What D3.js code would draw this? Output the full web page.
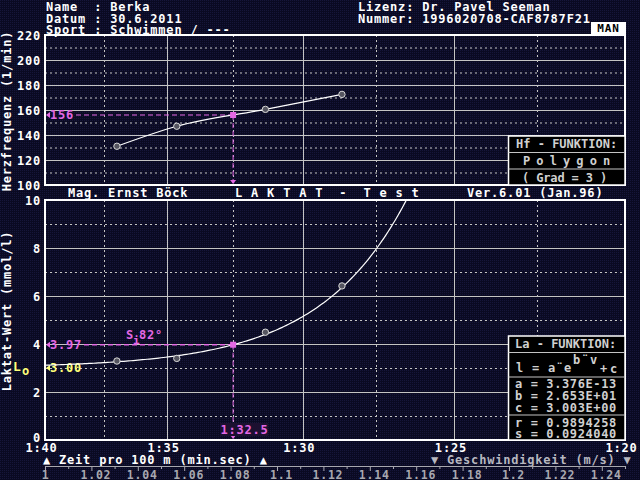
<!DOCTYPE html>
<html><head><meta charset="utf-8">
<script src="https://cdn.jsdelivr.net/npm/d3@7"></script>
<style>body{margin:0;background:#0c0c26;} svg{display:block}</style>
</head><body><svg id="c" width="640" height="480"></svg>
<script>
// ---------- data ----------
const headerLeft = ["Name  : Berka", "Datum : 30.6.2011", "Sport : Schwimmen / ---"];
const headerRight = ["Lizenz: Dr. Pavel Seeman", "Nummer: 1996020708-CAF8787F21"];
const speeds = [1.031, 1.0568, 1.095, 1.128];          // m/s
const heartRate = [131, 147, 160.5, 172.5];            // 1/min
const lactate = [3.29, 3.40, 4.49, 6.42];              // mmol/l
const hfTicks = [100, 120, 140, 160, 180, 200, 220];
const laTicks = [0, 2, 4, 6, 8, 10];
const timeSeconds = [100, 95, 90, 85, 80];
const timeLabels = ["1:40", "1:35", "1:30", "1:25", "1:20"];
const halfTimeSeconds = [97.5, 92.5, 87.5, 82.5];
const speedTicks = [1, 1.02, 1.04, 1.06, 1.08, 1.1, 1.12, 1.14, 1.16, 1.18, 1.2, 1.22, 1.24];
const speedMinorTicks = [1.01, 1.03, 1.05, 1.07, 1.09, 1.11, 1.13, 1.15, 1.17, 1.19, 1.21, 1.23, 1.25];
const fitParams = [3.376e-13, 26.53, 3.003];           // a, b, c
const thresholdSeconds = [92.5];
const thresholdLabel = ["1:32.5"];
const thresholdHf = [156];
const thresholdLa = [3.97];
const baseLactate = [3.00];
const hfBoxLines = ["Hf - FUNKTION:", "P o l y g o n", "( Grad = 3 )"];
const laParamLines = ["a = 3.376E-13", "b = 2.653E+01", "c = 3.003E+00"];
const laStatLines = ["r = 0.9894258", "s = 0.0924040"];

// ---------- setup ----------
const FONT = "'DejaVu Sans Mono', monospace";
const FS = 12, LS = 0.8;
const WHITE = "#ffffff", GRID = "#c4c4c4", MAG = "#e468e4", YEL = "#ffff78", BOXTXT = "#d0d0d0", AXG = "#a8a8b0";
const svg = d3.select("#c");
const defs = svg.append("defs");
const pat = defs.append("pattern").attr("id", "bg").attr("width", 2).attr("height", 2).attr("patternUnits", "userSpaceOnUse");
pat.append("rect").attr("width", 2).attr("height", 2).attr("fill", "#0a0a22");
pat.append("rect").attr("width", 1).attr("height", 1).attr("fill", "#16163a");
svg.append("rect").attr("width", 640).attr("height", 480).attr("fill", "url(#bg)");

const x = d3.scaleLinear().domain([1, 1.25]).range([45, 625]);
const yHf = d3.scaleLinear().domain([100, 220]).range([185, 35]);
const yLa = d3.scaleLinear().domain([0, 10]).range([440, 200]);
const X0 = x(1), X1 = x(1.25);

function styleText(sel, fill, size) {
  return sel.attr("font-family", FONT).attr("font-weight", "bold").attr("font-size", size || FS)
    .attr("letter-spacing", LS).attr("fill", fill || WHITE).attr("dominant-baseline", "central");
}
function txt(g, s, px, py, opts = {}) {
  const t = g.append("text").attr("x", px).attr("y", py).text(s.replace(/ /g, "\u00a0"))
    .attr("text-anchor", opts.anchor || "start");
  return styleText(t, opts.fill, opts.size);
}

// ---------- header ----------
headerLeft.forEach((s, i) => txt(svg, s, 46, 7 + i * 11.5));
headerRight.forEach((s, i) => txt(svg, s, 358, 7 + i * 11.5));
svg.append("rect").attr("x", 591).attr("y", 22).attr("width", 35).attr("height", 12).attr("fill", WHITE);
txt(svg, "MAN", 608.5, 28, { fill: "#000", anchor: "middle", size: 11 });

// ---------- grids ----------
function grid(yScale, solidVals, dashedVals, y0, y1) {
  const g = svg.append("g");
  g.selectAll(".hs").data(solidVals).join("line")
    .attr("x1", X0).attr("x2", X1).attr("y1", d => yScale(d) + 0.5).attr("y2", d => yScale(d) + 0.5)
    .attr("stroke", GRID).attr("stroke-width", 1);
  g.selectAll(".hd").data(dashedVals).join("line")
    .attr("x1", X0).attr("x2", X1).attr("y1", d => yScale(d) + 0.5).attr("y2", d => yScale(d) + 0.5)
    .attr("stroke", GRID).attr("stroke-width", 1).attr("stroke-dasharray", "2,3");
  g.selectAll(".vs").data(timeSeconds.slice(1, -1)).join("line")
    .attr("x1", d => Math.round(x(100 / d)) + 0.5).attr("x2", d => Math.round(x(100 / d)) + 0.5)
    .attr("y1", y0).attr("y2", y1).attr("stroke", GRID).attr("stroke-width", 1);
  g.selectAll(".vd").data(halfTimeSeconds).join("line")
    .attr("x1", d => Math.round(x(100 / d)) + 0.5).attr("x2", d => Math.round(x(100 / d)) + 0.5)
    .attr("y1", y0).attr("y2", y1).attr("stroke", GRID).attr("stroke-width", 1).attr("stroke-dasharray", "2,3");
  svg.append("rect").attr("x", X0).attr("y", y0).attr("width", X1 - X0).attr("height", y1 - y0)
    .attr("fill", "none").attr("stroke", WHITE).attr("stroke-width", 2);
}
grid(yHf, [120, 140, 160, 180, 200], [110, 130, 150, 170, 190, 210], yHf(220), yHf(100));
grid(yLa, [2, 4, 6, 8], [1, 3, 5, 7, 9], yLa(10), yLa(0));

// ---------- y axes ----------
function yAxis(scale, ticks, dyFn) {
  const g = svg.append("g").attr("transform", `translate(${X0},0)`)
    .call(d3.axisLeft(scale).tickValues(ticks).tickSize(0).tickPadding(4));
  g.select(".domain").remove();
  styleText(g.selectAll("text").attr("dy", dyFn || null));
}
yAxis(yHf, hfTicks);
yAxis(yLa, laTicks, d => d === 0 ? -3 : null);
txt(svg, "Herzfrequenz (1/min)", 0, 0, { anchor: "middle" }).attr("transform", "translate(7,111) rotate(-90)");
txt(svg, "Laktat-Wert (mmol/l)", 0, 0, { anchor: "middle" }).attr("transform", "translate(7,311) rotate(-90)");

// ---------- middle titles ----------
txt(svg, "Mag. Ernst Böck", 68, 193);
txt(svg, "L A K T A T  -  T e s t", 235, 193);
txt(svg, "Ver.6.01 (Jan.96)", 467, 193);

// ---------- HF function box ----------
const hb = svg.append("g");
hb.append("rect").attr("x", 508.5).attr("y", 136).attr("width", 116.5).attr("height", 49).attr("fill", "#000").attr("stroke", WHITE).attr("stroke-width", 1.5);
[152.5, 169].forEach(yy => hb.append("line").attr("x1", 508.5).attr("x2", 625).attr("y1", yy).attr("y2", yy).attr("stroke", GRID));
const hbPos = [[516, 102], [523, 88], [522, 86]];
hfBoxLines.forEach((s, i) => txt(hb, s, hbPos[i][0], 144 + i * 17, { fill: BOXTXT })
  .attr("textLength", hbPos[i][1]).attr("lengthAdjust", "spacing"));

// ---------- threshold markers (top) ----------
const tx = x(100 / thresholdSeconds[0]);
const topG = svg.append("g");
topG.append("line").attr("x1", 76).attr("x2", tx).attr("y1", yHf(thresholdHf[0])).attr("y2", yHf(thresholdHf[0]))
  .attr("stroke", MAG).attr("stroke-width", 1).attr("stroke-dasharray", "5,3");
topG.append("line").attr("x1", tx).attr("x2", tx).attr("y1", yHf(thresholdHf[0])).attr("y2", yHf(100) - 3)
  .attr("stroke", MAG).attr("stroke-width", 1).attr("stroke-dasharray", "5,3");
topG.append("path").attr("d", `M${tx - 3},${yHf(100) - 5}L${tx + 3},${yHf(100) - 5}L${tx},${yHf(100) - 1}Z`).attr("fill", MAG);
topG.append("path").attr("d", `M${X0 + 1},${yHf(thresholdHf[0])}l4,-3v6z`).attr("fill", MAG);
txt(topG, String(thresholdHf[0]), 50, yHf(thresholdHf[0]), { fill: MAG });

// ---------- HF line & points ----------
const hfPts = speeds.map((v, i) => [x(v), yHf(heartRate[i])]);
svg.append("path").attr("d", d3.line().curve(d3.curveMonotoneX)(hfPts))
  .attr("fill", "none").attr("stroke", WHITE).attr("stroke-width", 1.2);
svg.append("rect").attr("x", tx - 3).attr("y", yHf(thresholdHf[0]) - 3).attr("width", 6).attr("height", 6).attr("fill", MAG);
svg.selectAll(".hfp").data(hfPts).join("circle").attr("cx", d => d[0]).attr("cy", d => d[1]).attr("r", 3.2)
  .attr("fill", "#555560").attr("stroke", "#d8d8d8").attr("stroke-width", 1);

// ---------- lactate threshold markers ----------
const botG = svg.append("g");
const ty = yLa(thresholdLa[0]);
botG.append("line").attr("x1", 84).attr("x2", tx).attr("y1", ty).attr("y2", ty)
  .attr("stroke", MAG).attr("stroke-width", 1.5).attr("stroke-dasharray", "5,3");
botG.append("line").attr("x1", tx).attr("x2", tx).attr("y1", ty).attr("y2", yLa(0) - 3)
  .attr("stroke", MAG).attr("stroke-width", 1).attr("stroke-dasharray", "5,3");
botG.append("path").attr("d", `M${tx - 3},${yLa(0) - 5}L${tx + 3},${yLa(0) - 5}L${tx},${yLa(0) - 1}Z`).attr("fill", MAG);
botG.append("path").attr("d", `M${X0 + 1},${ty}l4,-3v6z`).attr("fill", MAG);
txt(botG, thresholdLa[0].toFixed(2), 50, ty, { fill: MAG });
botG.append("rect").attr("x", 220).attr("y", 423).attr("width", 48).attr("height", 13).attr("fill", "#1c1030");
txt(botG, thresholdLabel[0], 244.5, 429.5, { fill: MAG, anchor: "middle" });
txt(botG, "S", 126, 335, { fill: MAG });
txt(botG, "i", 133, 340, { fill: MAG, size: 11 });
txt(botG, "82°", 139, 335, { fill: MAG });
// L0
txt(botG, "L", 13, 366, { fill: YEL, size: 13 });
txt(botG, "o", 22, 371, { fill: YEL, size: 12 });
botG.append("path").attr("d", `M${X0 + 1},${yLa(baseLactate[0])}l4,-3v6z`).attr("fill", YEL);
txt(botG, baseLactate[0].toFixed(2), 50, yLa(baseLactate[0]), { fill: YEL });

// ---------- lactate fitted curve ----------
defs.append("clipPath").attr("id", "laclip").append("rect").attr("x", X0).attr("y", yLa(10)).attr("width", X1 - X0).attr("height", yLa(0) - yLa(10));
const [fa, fb, fc] = fitParams;
const vMax = Math.log((10 - fc) / fa) / fb + 0.003;
const curvePts = d3.range(1, vMax, 0.001).map(v => [x(v), yLa(fa * Math.exp(fb * v) + fc)]);
svg.append("path").attr("clip-path", "url(#laclip)").attr("d", d3.line()(curvePts))
  .attr("fill", "none").attr("stroke", WHITE).attr("stroke-width", 1.2);
svg.append("rect").attr("x", tx - 3).attr("y", ty - 3).attr("width", 6).attr("height", 6).attr("fill", MAG);
svg.selectAll(".lap").data(speeds.map((v, i) => [x(v), yLa(lactate[i])])).join("circle")
  .attr("cx", d => d[0]).attr("cy", d => d[1]).attr("r", 3.2)
  .attr("fill", "#555560").attr("stroke", "#d8d8d8").attr("stroke-width", 1);

// ---------- La function box ----------
const lb = svg.append("g");
lb.append("rect").attr("x", 508.5).attr("y", 336).attr("width", 116.5).attr("height", 104).attr("fill", "#000").attr("stroke", WHITE).attr("stroke-width", 1.5);
[352.5, 377, 415].forEach(yy => lb.append("line").attr("x1", 508.5).attr("x2", 625).attr("y1", yy).attr("y2", yy).attr("stroke", GRID));
txt(lb, "La - FUNKTION:", 515, 344, { fill: BOXTXT }).attr("textLength", 102).attr("lengthAdjust", "spacing");
txt(lb, "l = a¨e", 516, 368, { fill: BOXTXT }).attr("textLength", 56).attr("lengthAdjust", "spacing");
txt(lb, "b¨v", 573, 360, { fill: BOXTXT }).attr("textLength", 25).attr("lengthAdjust", "spacing");
txt(lb, "+c", 600, 369, { fill: BOXTXT }).attr("textLength", 18).attr("lengthAdjust", "spacing");
laParamLines.forEach((s, i) => txt(lb, s, 515, 384 + i * 11.8, { fill: BOXTXT }).attr("textLength", 102).attr("lengthAdjust", "spacing"));
laStatLines.forEach((s, i) => txt(lb, s, 515, 423 + i * 10.6, { fill: BOXTXT }).attr("textLength", 102).attr("lengthAdjust", "spacing"));

// ---------- time axis labels ----------
const tAx = svg.append("g").attr("transform", "translate(-4,441)")
  .call(d3.axisBottom(x).tickValues(timeSeconds.map(s => 100 / s)).tickFormat((d, i) => timeLabels[i]).tickSize(0).tickPadding(0));
tAx.select(".domain").remove();
styleText(tAx.selectAll("text").attr("y", 6.5).attr("dy", null));
txt(svg, "▲ Zeit pro 100 m (min.sec) ▲", 43, 460);
txt(svg, "▼ Geschwindigkeit (m/s) ▼", 431, 460, { fill: "#b8b8c0" });

// ---------- speed axis ----------
const sMinor = svg.append("g").attr("transform", "translate(0,466)")
  .call(d3.axisBottom(x).tickValues(speedMinorTicks).tickSize(3).tickFormat(""));
sMinor.select(".domain").remove();
sMinor.selectAll("line").attr("stroke", AXG);
const sAx = svg.append("g").attr("transform", "translate(0,466)")
  .call(d3.axisBottom(x).tickValues(speedTicks).tickSize(5).tickSizeOuter(0).tickFormat(d => d3.format("~g")(d)));
sAx.select(".domain").attr("stroke", AXG);
sAx.selectAll("line").attr("stroke", AXG);
styleText(sAx.selectAll("text").attr("y", 8.5).attr("dy", null).attr("dx", (d, i) => i === 0 ? 0 : 4), AXG, 11.5);
</script></body></html>
